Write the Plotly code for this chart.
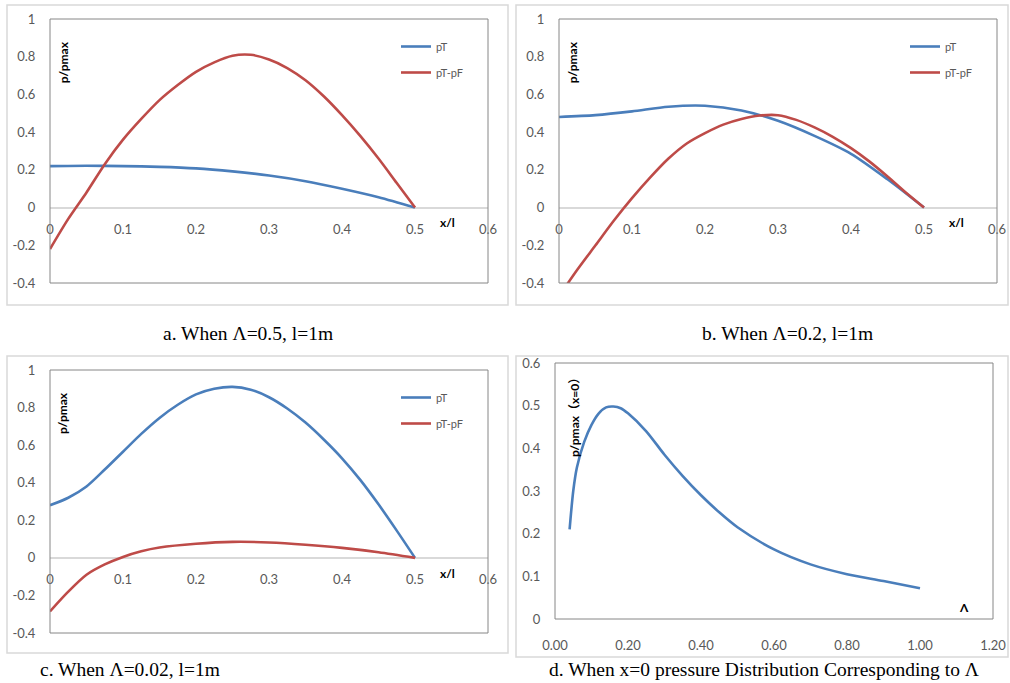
import plotly.graph_objects as go

W, H = 1010, 683

# ---------------- data ----------------
# panel a (Lambda=0.5)
xa_pT = [0, 0.05, 0.1, 0.15, 0.2, 0.25, 0.3, 0.35, 0.4, 0.45, 0.5]
ya_pT = [0.22, 0.222, 0.22, 0.216, 0.208, 0.192, 0.17, 0.14, 0.1, 0.055, 0.0]
xa_pTpF = [0, 0.025, 0.05, 0.075, 0.1, 0.125, 0.15, 0.175, 0.2, 0.225, 0.25,
           0.275, 0.3, 0.325, 0.35, 0.375, 0.4, 0.425, 0.45, 0.475, 0.5]
ya_pTpF = [-0.22, -0.06, 0.08, 0.23, 0.36, 0.47, 0.57, 0.65, 0.72, 0.77, 0.805,
           0.81, 0.785, 0.74, 0.675, 0.59, 0.49, 0.38, 0.26, 0.13, 0.0]

# panel b (Lambda=0.2)
xb_pT = [0, 0.05, 0.1, 0.15, 0.2, 0.25, 0.3, 0.35, 0.4, 0.45, 0.5]
yb_pT = [0.48, 0.49, 0.51, 0.535, 0.54, 0.515, 0.46, 0.38, 0.285, 0.15, 0.0]
xb_pTpF = [0, 0.025, 0.05, 0.075, 0.1, 0.125, 0.15, 0.175, 0.2, 0.225, 0.25,
           0.275, 0.3, 0.325, 0.35, 0.375, 0.4, 0.425, 0.45, 0.475, 0.5]
yb_pTpF = [-0.47, -0.33, -0.2, -0.07, 0.05, 0.16, 0.26, 0.34, 0.395, 0.44, 0.47,
           0.488, 0.49, 0.465, 0.425, 0.375, 0.315, 0.245, 0.165, 0.08, 0.0]

# panel c (Lambda=0.02)
xc_pT = [0, 0.025, 0.05, 0.075, 0.1, 0.125, 0.15, 0.175, 0.2, 0.225, 0.25,
         0.275, 0.3, 0.325, 0.35, 0.375, 0.4, 0.425, 0.45, 0.475, 0.5]
yc_pT = [0.28, 0.32, 0.38, 0.47, 0.565, 0.66, 0.745, 0.815, 0.87, 0.9, 0.91,
         0.895, 0.855, 0.795, 0.72, 0.63, 0.53, 0.415, 0.285, 0.145, 0.0]
xc_pTpF = [0, 0.025, 0.05, 0.075, 0.1, 0.125, 0.15, 0.2, 0.25, 0.3, 0.35, 0.4, 0.45, 0.5]
yc_pTpF = [-0.285, -0.18, -0.09, -0.035, 0.005, 0.035, 0.055, 0.075, 0.085,
           0.082, 0.07, 0.053, 0.03, 0.0]

# panel d (pressure at x=0 vs Lambda)
xd_lam = [0.04, 0.05, 0.06, 0.08, 0.1, 0.12, 0.14, 0.16, 0.18, 0.2, 0.25, 0.3,
          0.35, 0.4, 0.45, 0.5, 0.6, 0.7, 0.8, 0.9, 1.0]
yd_p0 = [0.21, 0.30, 0.355, 0.415, 0.455, 0.482, 0.496, 0.498, 0.494, 0.482,
         0.44, 0.385, 0.335, 0.29, 0.25, 0.215, 0.163, 0.128, 0.105, 0.089, 0.072]

xticks_abc = [0, 0.1, 0.2, 0.3, 0.4, 0.5, 0.6]
xticklabels_abc = ["0", "0.1", "0.2", "0.3", "0.4", "0.5", "0.6"]
yticks_abc = [-0.4, -0.2, 0, 0.2, 0.4, 0.6, 0.8, 1]
yticklabels_abc = ["-0.4", "-0.2", "0", "0.2", "0.4", "0.6", "0.8", "1"]
xticks_d = [0, 0.2, 0.4, 0.6, 0.8, 1.0, 1.2]
xticklabels_d = ["0.00", "0.20", "0.40", "0.60", "0.80", "1.00", "1.20"]
yticks_d = [0, 0.1, 0.2, 0.3, 0.4, 0.5, 0.6]
yticklabels_d = ["0", "0.1", "0.2", "0.3", "0.4", "0.5", "0.6"]

captions = ["a. When Λ=0.5, l=1m", "b. When Λ=0.2, l=1m",
            "c. When Λ=0.02, l=1m", "d. When x=0 pressure Distribution Corresponding to Λ"]

# ---------------- styling ----------------
BLUE = "#4A7EBB"
RED = "#BE4B48"
TICK = dict(family="Lato, 'Liberation Sans', sans-serif", size=13, color="#595959")
LAB = dict(family="Lato, 'Noto Sans CJK SC', sans-serif", size=12, color="#000000")


def px_x(p):
    return p / W


def px_y(p):
    return 1 - p / H


fig = go.Figure()

panels = [
    dict(k="", xd=(50, 488), yd=(19, 283), xr=[0, 0.6], yr=[-0.4, 1]),
    dict(k="2", xd=(559, 997), yd=(19, 283), xr=[0, 0.6], yr=[-0.4, 1]),
    dict(k="3", xd=(50, 488), yd=(370, 633), xr=[0, 0.6], yr=[-0.4, 1]),
    dict(k="4", xd=(555, 993), yd=(363, 619), xr=[0, 1.2], yr=[0, 0.6]),
]

series = [
    [(xa_pT, ya_pT, "pT", BLUE), (xa_pTpF, ya_pTpF, "pT-pF", RED)],
    [(xb_pT, yb_pT, "pT", BLUE), (xb_pTpF, yb_pTpF, "pT-pF", RED)],
    [(xc_pT, yc_pT, "pT", BLUE), (xc_pTpF, yc_pTpF, "pT-pF", RED)],
    [(xd_lam, yd_p0, "p0", BLUE)],
]

legend_tops = [32, 32, 383]
legend_lefts = [396, 905, 396]

for i, (p, ser) in enumerate(zip(panels, series)):
    k = p["k"]
    xa_name = "x" + k
    ya_name = "y" + k
    for j, (xs, ys, name, col) in enumerate(ser):
        tr = dict(x=xs, y=ys, mode="lines", name=name,
                  line=dict(color=col, width=2.6, shape="spline", smoothing=0.8),
                  xaxis=xa_name, yaxis=ya_name, hoverinfo="skip")
        if i < 3:
            tr["legend"] = "legend" + k
            tr["legendgroup"] = f"g{i}{j}"
            tr["showlegend"] = True
        else:
            tr["showlegend"] = False
        fig.add_trace(go.Scatter(**tr))

    ydom = [px_y(p["yd"][1]), px_y(p["yd"][0])]
    xdom = [px_x(p["xd"][0]), px_x(p["xd"][1])]
    ymin, ymax = p["yr"]
    common = dict(showgrid=False, zeroline=False, showline=False, automargin=False,
                  ticks="outside", tickcolor="rgba(0,0,0,0)", tickfont=TICK,
                  fixedrange=True)
    if i < 3:
        zero_pos = ydom[0] + (0 - ymin) / (ymax - ymin) * (ydom[1] - ydom[0])
        xax = dict(common, domain=xdom, range=p["xr"], anchor="free", position=zero_pos,
                   tickvals=xticks_abc, ticktext=xticklabels_abc, ticklen=10)
        yax = dict(common, domain=ydom, range=p["yr"], anchor=xa_name,
                   tickvals=yticks_abc, ticktext=yticklabels_abc, ticklen=11)
        yax.update(zeroline=True, zerolinecolor="#D9D9D9", zerolinewidth=2)
    else:
        xax = dict(common, domain=xdom, range=p["xr"], anchor=ya_name,
                   tickvals=xticks_d, ticktext=xticklabels_d, ticklen=14)
        yax = dict(common, domain=ydom, range=p["yr"], anchor=xa_name,
                   tickvals=yticks_d, ticktext=yticklabels_d, ticklen=11)
    fig.layout["xaxis" + k] = xax
    fig.layout["yaxis" + k] = yax

    fig.add_shape(type="rect", xref=xa_name + " domain", yref=ya_name + " domain",
                  x0=0, x1=1, y0=0, y1=1, line=dict(color="#868686", width=1),
                  layer="above")

    if i < 3:
        fig.layout["legend" + k] = dict(
            x=px_x(legend_lefts[i]), y=px_y(legend_tops[i]),
            xanchor="left", yanchor="top", bgcolor="rgba(0,0,0,0)",
            font=dict(family="Lato, sans-serif", size=11, color="#595959"),
            itemwidth=30, traceorder="grouped", tracegroupgap=7,
            itemclick=False, itemdoubleclick=False)
        fig.add_annotation(xref=xa_name + " domain", yref=ya_name + " domain",
                           x=0.03, y=0.837, text="<b>p/pmax</b>", textangle=-90,
                           xanchor="center", yanchor="middle",
                           showarrow=False, font=LAB)
        fig.add_annotation(xref=xa_name, yref=ya_name, x=0.545,
                           y=-0.085 if i == 2 else -0.08,
                           xanchor="center", yanchor="middle",
                           text="<b>x/l</b>", showarrow=False, font=LAB)
    else:
        fig.add_annotation(xref=xa_name + " domain", yref=ya_name + " domain",
                           x=0.046, y=0.797, text="<b>p/pmax（x=0）</b>", textangle=-90,
                           xanchor="center", yanchor="middle",
                           showarrow=False, font=LAB)
        fig.add_annotation(xref=xa_name, yref=ya_name, x=1.12, y=0.028,
                           xanchor="center", yanchor="middle",
                           text="<b>Λ</b>", showarrow=False, font=LAB)

frames = [(7, 5, 508, 305), (516, 5, 1008, 305), (7, 356, 508, 653), (516, 356, 1008, 657)]
for (x0, y0, x1, y1) in frames:
    fig.add_shape(type="rect", xref="paper", yref="paper",
                  x0=px_x(x0), x1=px_x(x1), y0=px_y(y1), y1=px_y(y0),
                  line=dict(color="#D9D9D9", width=1.5), layer="below")

cap_pos = [(248, 333), (787, 333), (130, 669), (764, 669)]
for txt, (cx, cy) in zip(captions, cap_pos):
    fig.add_annotation(xref="paper", yref="paper", x=px_x(cx), y=px_y(cy),
                       text=txt, showarrow=False, xanchor="center", yanchor="middle",
                       font=dict(family="'Liberation Serif', 'Times New Roman', serif",
                                 size=19.5, color="#000000"))

fig.update_layout(template="none", width=W, height=H,
                  margin=dict(l=0, r=0, t=0, b=0, pad=0),
                  paper_bgcolor="white", plot_bgcolor="white")

fig.write_html(
    "out.html",
    config={"displayModeBar": False},
    post_script="document.body.style.margin='0';document.body.style.overflow='hidden';"
                "document.documentElement.style.overflow='hidden';",
)
